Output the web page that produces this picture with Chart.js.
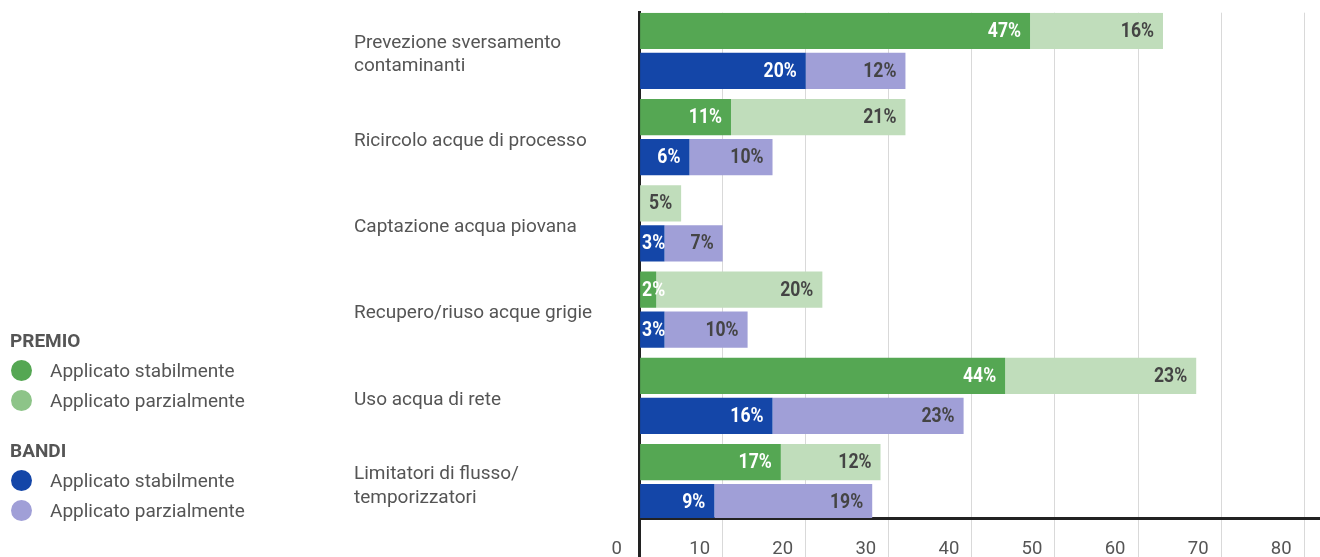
<!DOCTYPE html>
<html lang="it">
<head>
<meta charset="utf-8">
<title>Misure per il risparmio idrico</title>
<script src="https://cdn.jsdelivr.net/npm/chart.js@4.4.1/dist/chart.umd.min.js"></script>
<style>
  html, body { margin: 0; padding: 0; background: #ffffff; overflow: hidden; }
  #wrap { position: relative; width: 1320px; height: 557px; }
  #chart { position: absolute; left: 0; top: 0; }
  .legend { position: absolute; left: 0; top: 0; font-family: Roboto, sans-serif; color: #555555; }
  .legend .head { position: absolute; left: 10px; font-weight: bold; font-size: 19px; line-height: 22px; white-space: nowrap; }
  .legend .item { position: absolute; left: 50px; font-size: 19px; line-height: 22px; white-space: nowrap; }
  .legend .dot { position: absolute; left: 11px; width: 21px; height: 21px; border-radius: 50%; }
</style>
</head>
<body>
<div id="wrap">
  <canvas id="chart" width="1320" height="557"></canvas>
  <div class="legend">
    <div class="head" style="top:330px">PREMIO</div>
    <div class="dot" style="top:360px;background:#55a753"></div>
    <div class="item" style="top:360px">Applicato stabilmente</div>
    <div class="dot" style="top:390px;background:#8dc488"></div>
    <div class="item" style="top:390px">Applicato parzialmente</div>
    <div class="head" style="top:440px">BANDI</div>
    <div class="dot" style="top:470px;background:#1446a8"></div>
    <div class="item" style="top:470px">Applicato stabilmente</div>
    <div class="dot" style="top:500px;background:#a09fd7"></div>
    <div class="item" style="top:500px">Applicato parzialmente</div>
  </div>
</div>
<script>
// Categories (multi-line labels as arrays)
const CATEGORIES = [
  ['Prevezione sversamento', 'contaminanti'],
  'Ricircolo acque di processo',
  'Captazione acqua piovana',
  'Recupero/riuso acque grigie',
  'Uso acqua di rete',
  ['Limitatori di flusso/', 'temporizzatori']
];

// Percentages per category
const PREMIO_STABILE  = [47, 11, 0, 2, 44, 17];
const PREMIO_PARZIALE = [16, 21, 5, 20, 23, 12];
const BANDI_STABILE   = [20, 6, 3, 3, 16, 9];
const BANDI_PARZIALE  = [12, 10, 7, 10, 23, 19];

// Value-axis tick labels
const X_TICKS = [0, 10, 20, 30, 40, 50, 60, 70, 80];

const COLORS = {
  premioStabile: '#55a753',
  premioParziale: '#c0ddbb',
  bandiStabile: '#1446a8',
  bandiParziale: '#a09fd7'
};

const TEXT = '#555555';
const AXIS = '#222222';
const GRID = '#d9d9d9';

Chart.defaults.font.family = 'Roboto, sans-serif';
Chart.defaults.color = TEXT;

// Each series is placed at its category index on a linear index axis
const toPoints = (values) => values.map((v, i) => ({ x: v, y: i }));

// Percent labels inside each stacked segment, right-aligned at the segment end
const segmentLabels = {
  id: 'segmentLabels',
  afterDatasetsDraw(chart) {
    const ctx = chart.ctx;
    const squeeze = 0.88;
    ctx.save();
    ctx.font = 'bold 20px Roboto, sans-serif';
    ctx.textBaseline = 'middle';
    ctx.textAlign = 'left';
    chart.data.datasets.forEach((ds, di) => {
      const meta = chart.getDatasetMeta(di);
      meta.data.forEach((bar, i) => {
        const v = ds.data[i].x;
        if (!v) return;
        const text = v + '%';
        const w = ctx.measureText(text).width * squeeze;
        const left = Math.min(bar.x, bar.base);
        const right = Math.max(bar.x, bar.base);
        let x = right - 9 - w;
        if (x < left + 2) x = left + 2;
        ctx.fillStyle = ds.labelColor;
        ctx.save();
        ctx.translate(x, bar.y + 1);
        ctx.scale(squeeze, 1);
        ctx.fillText(text, 0, 0);
        ctx.restore();
      });
    });
    ctx.restore();
  }
};

new Chart(document.getElementById('chart'), {
  type: 'bar',
  data: {
    datasets: [
      { label: 'PREMIO – Applicato stabilmente', data: toPoints(PREMIO_STABILE), stack: 'premio',
        backgroundColor: COLORS.premioStabile, labelColor: '#ffffff' },
      { label: 'PREMIO – Applicato parzialmente', data: toPoints(PREMIO_PARZIALE), stack: 'premio',
        backgroundColor: COLORS.premioParziale, labelColor: '#444444' },
      { label: 'BANDI – Applicato stabilmente', data: toPoints(BANDI_STABILE), stack: 'bandi',
        backgroundColor: COLORS.bandiStabile, labelColor: '#ffffff' },
      { label: 'BANDI – Applicato parzialmente', data: toPoints(BANDI_PARZIALE), stack: 'bandi',
        backgroundColor: COLORS.bandiParziale, labelColor: '#444444' }
    ]
  },
  options: {
    indexAxis: 'y',
    responsive: false,
    animation: false,
    devicePixelRatio: 1,
    categoryPercentage: 0.927,
    barPercentage: 0.9075,
    borderWidth: 0,
    layout: { padding: { left: 354, top: 12.7, right: 0, bottom: 0 } },
    plugins: {
      legend: { display: false },
      tooltip: { enabled: false }
    },
    scales: {
      x: {
        type: 'linear',
        stacked: true,
        min: 0,
        max: 81.9,
        z: 0,
        afterBuildTicks(scale) {
          scale.ticks = X_TICKS.map(v => ({ value: v }));
        },
        afterFit(scale) {
          scale.height = 39;
          scale.paddingLeft = 0;
          scale.paddingRight = 0;
        },
        border: { display: true, color: AXIS, width: 3 },
        grid: {
          display: true,
          drawOnChartArea: true,
          drawTicks: true,
          tickLength: 39,
          color: GRID,
          lineWidth: 1,
          tickColor: (c) => (c.tick && c.tick.value === 0 ? AXIS : GRID),
          tickWidth: (c) => (c.tick && c.tick.value === 0 ? 3 : 1)
        },
        ticks: {
          padding: -19,
          labelOffset: -23,
          maxRotation: 0,
          autoSkip: false,
          color: TEXT,
          font: { size: 18.5 },
          callback: (v) => String(v)
        }
      },
      y: {
        type: 'linear',
        reverse: true,
        min: -0.443,
        max: 5.415,
        offset: false,
        z: 1,
        afterBuildTicks(scale) {
          scale.ticks = CATEGORIES.map((_, i) => ({ value: i }));
        },
        afterFit(scale) {
          scale.width = 285.6;
          scale.paddingTop = 0;
          scale.paddingBottom = 0;
        },
        border: { display: true, color: AXIS, width: 3 },
        grid: { display: true, offset: false, drawOnChartArea: false, drawTicks: false, color: 'rgba(0,0,0,0)' },
        ticks: {
          crossAlign: 'far',
          labelOffset: 4,
          autoSkip: false,
          color: TEXT,
          font: { size: 19, lineHeight: 1.23 },
          callback: (v) => CATEGORIES[v]
        }
      }
    }
  },
  plugins: [segmentLabels]
});
</script>
</body>
</html>
